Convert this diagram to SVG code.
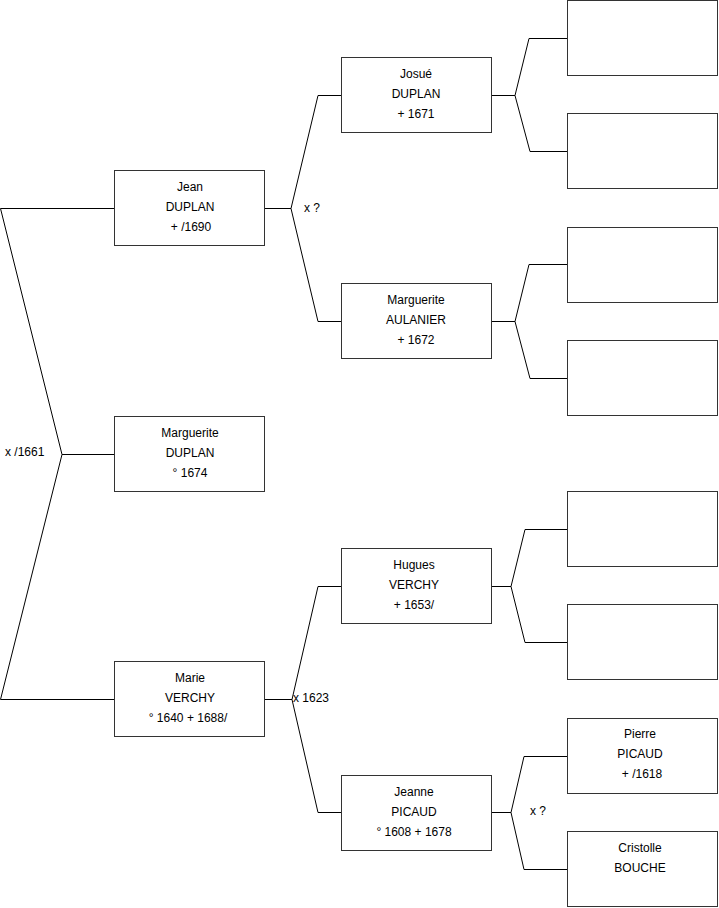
<svg xmlns="http://www.w3.org/2000/svg" width="719" height="908" viewBox="0 0 719 908">
<style>
.box{fill:#fff;stroke:#333;stroke-width:1}
.c{fill:none;stroke:#000;stroke-width:1}
text{font-family:"Liberation Sans",Arial,sans-serif;font-size:12px;fill:#000}
.m{text-anchor:middle}
</style>
<rect width="719" height="908" fill="#fff"/>
<g id="connectors">
<polyline class="c" points="114,208.5 0.5,208.5 62,454.5 0.5,699.5 114,699.5"/>
<line class="c" x1="62" y1="454.5" x2="114" y2="454.5"/>
<polyline class="c" points="341,95.5 318,95.5 291,208.5 318,321.5 341,321.5"/>
<line class="c" x1="265" y1="208.5" x2="291" y2="208.5"/>
<polyline class="c" points="341,586.5 318,586.5 292,699.5 318,812.5 341,812.5"/>
<line class="c" x1="265" y1="699.5" x2="292" y2="699.5"/>
<polyline class="c" points="567,38.5 529,38.5 515,95.5 530,151.5 567,151.5"/>
<line class="c" x1="492" y1="95.5" x2="515" y2="95.5"/>
<polyline class="c" points="567,264.5 529,264.5 515,321.5 530,378.5 567,378.5"/>
<line class="c" x1="492" y1="321.5" x2="515" y2="321.5"/>
<polyline class="c" points="567,529.5 525,529.5 511,586.5 525,642.5 567,642.5"/>
<line class="c" x1="492" y1="586.5" x2="511" y2="586.5"/>
<polyline class="c" points="567,756.5 524,756.5 511,812.5 524,869.5 567,869.5"/>
<line class="c" x1="492" y1="812.5" x2="511" y2="812.5"/>
<text x="304" y="212">x ?</text>
<text x="5" y="456">x /1661</text>
<text x="293" y="702">x 1623</text>
<text x="530" y="815">x ?</text>
</g>
<g id="jean"><rect class="box" x="114.5" y="170.5" width="150" height="75"/><text class="m" x="190" y="191">Jean</text><text class="m" x="190" y="211">DUPLAN</text><text class="m" x="191" y="231">+ /1690</text></g>
<g id="marguerite-duplan"><rect class="box" x="114.5" y="416.5" width="150" height="75"/><text class="m" x="190" y="437">Marguerite</text><text class="m" x="190" y="457">DUPLAN</text><text class="m" x="190" y="477">° 1674</text></g>
<g id="marie"><rect class="box" x="114.5" y="661.5" width="150" height="75"/><text class="m" x="190" y="682">Marie</text><text class="m" x="190" y="702">VERCHY</text><text class="m" x="188" y="722">° 1640 + 1688/</text></g>
<g id="josue"><rect class="box" x="341.5" y="57.5" width="150" height="75"/><text class="m" x="416" y="78">Josué</text><text class="m" x="416" y="98">DUPLAN</text><text class="m" x="416" y="118">+ 1671</text></g>
<g id="marguerite-aulanier"><rect class="box" x="341.5" y="283.5" width="150" height="75"/><text class="m" x="416" y="304">Marguerite</text><text class="m" x="416" y="324">AULANIER</text><text class="m" x="416" y="344">+ 1672</text></g>
<g id="hugues"><rect class="box" x="341.5" y="548.5" width="150" height="75"/><text class="m" x="414" y="569">Hugues</text><text class="m" x="414" y="589">VERCHY</text><text class="m" x="414" y="609">+ 1653/</text></g>
<g id="jeanne"><rect class="box" x="341.5" y="775.5" width="150" height="75"/><text class="m" x="414" y="796">Jeanne</text><text class="m" x="414" y="816">PICAUD</text><text class="m" x="414" y="836">° 1608 + 1678</text></g>
<g id="r1"><rect class="box" x="567.5" y="0.5" width="150" height="75"/></g>
<g id="r2"><rect class="box" x="567.5" y="113.5" width="150" height="75"/></g>
<g id="r3"><rect class="box" x="567.5" y="227.5" width="150" height="75"/></g>
<g id="r4"><rect class="box" x="567.5" y="340.5" width="150" height="75"/></g>
<g id="r5"><rect class="box" x="567.5" y="491.5" width="150" height="75"/></g>
<g id="r6"><rect class="box" x="567.5" y="604.5" width="150" height="75"/></g>
<g id="pierre"><rect class="box" x="567.5" y="718.5" width="150" height="75"/><text class="m" x="640" y="738">Pierre</text><text class="m" x="640" y="758">PICAUD</text><text class="m" x="642" y="778">+ /1618</text></g>
<g id="cristolle"><rect class="box" x="567.5" y="831.5" width="150" height="75"/><text class="m" x="640" y="852">Cristolle</text><text class="m" x="640" y="872">BOUCHE</text></g>
</svg>
